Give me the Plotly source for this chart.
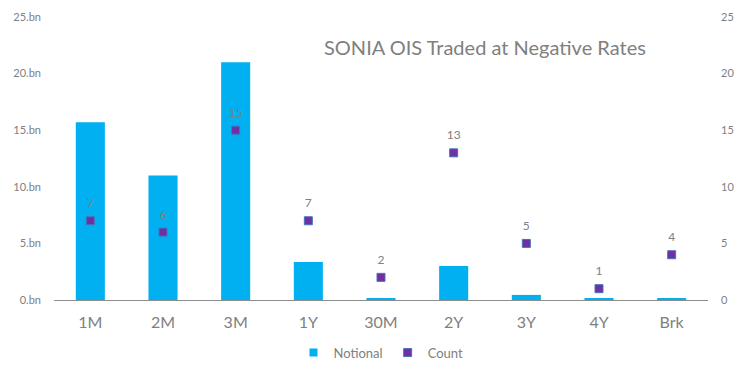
import plotly.graph_objects as go

categories = ["1M", "2M", "3M", "1Y", "30M", "2Y", "3Y", "4Y", "Brk"]
notional_bn = [15.7, 11.0, 21.0, 3.35, 0.1, 3.0, 0.45, 0.1, 0.1]
count = [7, 6, 15, 7, 2, 13, 5, 1, 4]
left_ticks = [0, 5, 10, 15, 20, 25]
left_tick_text = ["0.bn", "5.bn", "10.bn", "15.bn", "20.bn", "25.bn"]
right_ticks = [0, 5, 10, 15, 20, 25]

grey = "#808080"
bar_color = "#00B0F0"
marker_color = "#7030A0"
font_family = "Lato, 'Open Sans', sans-serif"

fig = go.Figure()
fig.add_trace(go.Bar(
    x=categories, y=notional_bn, name="Notional",
    marker=dict(color=bar_color, line=dict(width=0)),
    width=0.4, yaxis="y", showlegend=False,
))
fig.add_trace(go.Scatter(
    x=categories, y=count, name="Count", mode="markers",
    marker=dict(symbol="square", size=8, color=marker_color,
                line=dict(color="#4472C4", width=1)),
    yaxis="y2", showlegend=False,
))
# data labels above the markers
fig.add_trace(go.Scatter(
    x=categories, y=count, mode="markers+text",
    marker=dict(size=15, color="rgba(0,0,0,0)"),
    text=[str(c) for c in count], textposition="top center",
    textfont=dict(color=grey, size=12, family=font_family),
    yaxis="y2", showlegend=False, hoverinfo="skip",
))
# legend entries (small squares like the reference)
fig.add_trace(go.Scatter(
    x=[None], y=[None], name="Notional", mode="markers",
    marker=dict(symbol="square", size=8, color=bar_color),
))
fig.add_trace(go.Scatter(
    x=[None], y=[None], name="Count", mode="markers",
    marker=dict(symbol="square", size=8, color=marker_color,
                line=dict(color="#4472C4", width=1)),
))

fig.update_layout(
    width=744, height=374,
    margin=dict(l=46, r=44, t=9, b=82),
    plot_bgcolor="white", paper_bgcolor="white",
    font=dict(family=font_family, color=grey),
    xaxis=dict(
        range=[-0.5, len(categories) - 0.5],
        showgrid=False, showline=True, linecolor="#8c8c8c", linewidth=1,
        ticks="", tickfont=dict(size=16, color=grey), ticklabelstandoff=8,
        automargin=False,
    ),
    yaxis=dict(
        range=[0, 25], tickvals=left_ticks, ticktext=left_tick_text,
        showgrid=False, zeroline=False, showline=False, ticks="",
        tickfont=dict(size=11, color=grey), ticklabelstandoff=12,
        automargin=False,
    ),
    yaxis2=dict(
        range=[0, 25], tickvals=right_ticks, overlaying="y", side="right",
        showgrid=False, zeroline=False, showline=False, ticks="",
        tickfont=dict(size=11, color=grey), ticklabelstandoff=12,
        automargin=False,
    ),
    legend=dict(
        orientation="h", x=0.5, xanchor="center", y=-0.186, yanchor="middle",
        font=dict(size=13, color=grey), itemwidth=30, tracegroupgap=0,
    ),
    showlegend=True,
    annotations=[dict(
        text="SONIA OIS Traded at Negative Rates", xref="paper", yref="paper",
        x=0.659, y=0.895, xanchor="center", yanchor="middle", showarrow=False,
        font=dict(size=20, color=grey),
    )],
)

fig.write_html("out.html")
